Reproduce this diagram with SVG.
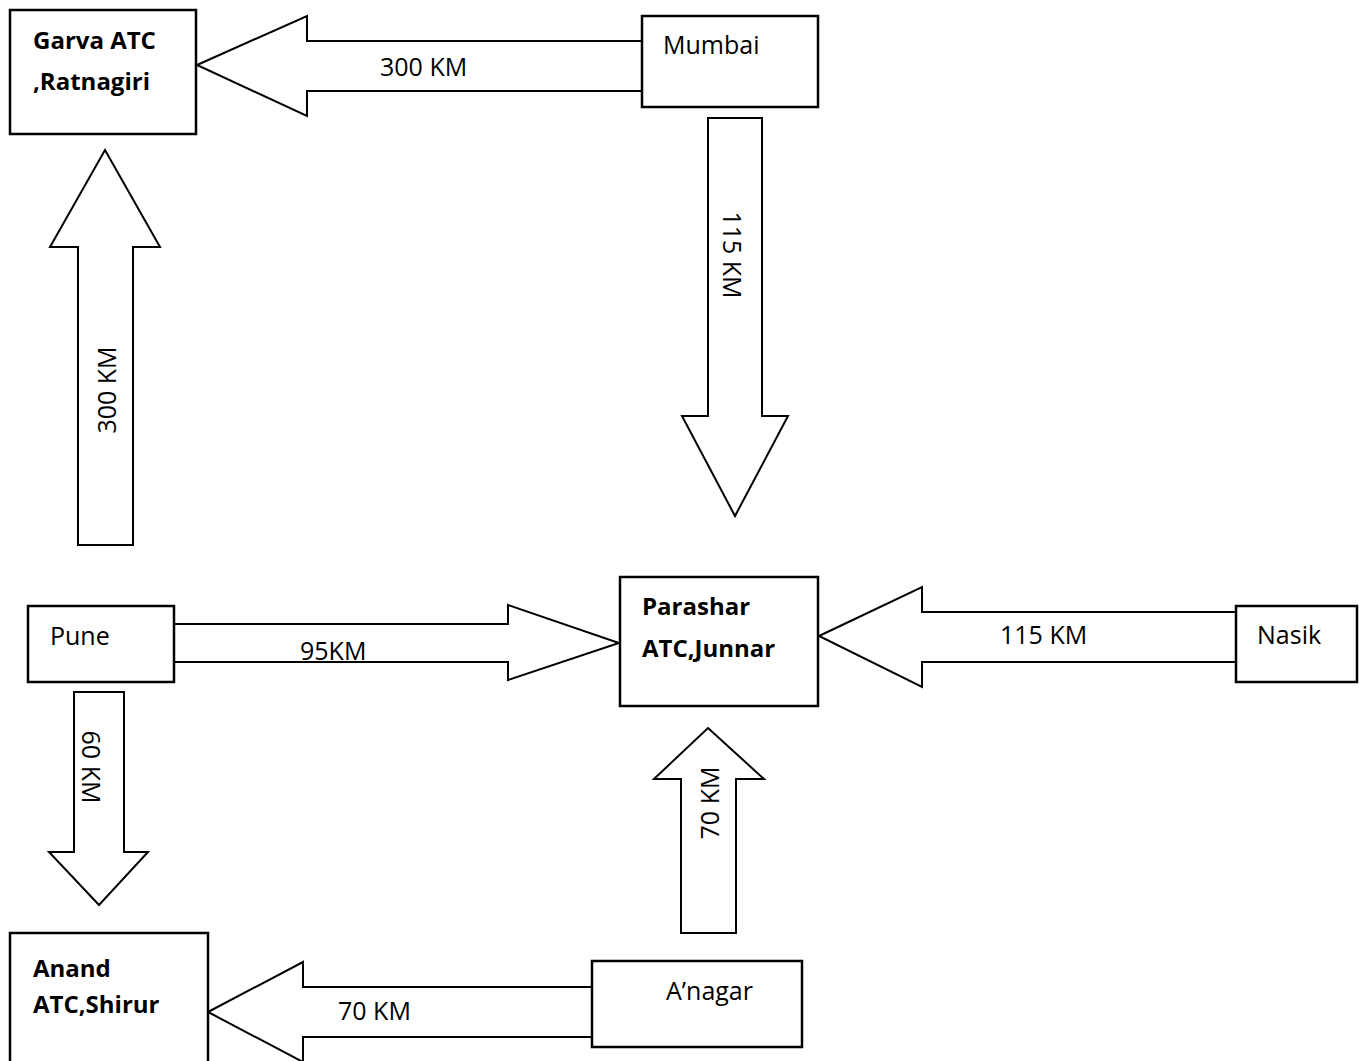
<svg xmlns="http://www.w3.org/2000/svg" width="1364" height="1061" viewBox="0 0 1364 1061">
<style>
.box{fill:#fff;stroke:#000;stroke-width:2.5}
.arr{fill:#fff;stroke:#000;stroke-width:2;stroke-linejoin:miter}
.t{font-family:"Open Sans","Liberation Sans",sans-serif;font-size:25px;fill:#000}
.b{font-family:"Open Sans","Liberation Sans",sans-serif;font-size:24px;font-weight:bold;fill:#000}
</style>
<defs>
<clipPath id="clip95"><rect x="170" y="600" width="400" height="61"/></clipPath>
</defs>
<rect width="1364" height="1061" fill="#fff"/>
<g id="connectors">
<polygon class="arr" points="197,65 307,16 307,41 642,41 642,91 307,91 307,116"/>
<text class="t" x="380" y="76">300 KM</text>
<polygon class="arr" points="708,118 762,118 762,416 788,416 735,516 682,416 708,416"/>
<text class="t" transform="translate(732,255) rotate(90)" text-anchor="middle" y="9">115 KM</text>
<polygon class="arr" points="105,150 160,247 133,247 133,545 78,545 78,247 50,247"/>
<text class="t" transform="translate(107,390) rotate(-90)" text-anchor="middle" y="9">300 KM</text>
<polygon class="arr" points="174,624 508,624 508,605 619,643 508,680 508,662 174,662"/>
<text class="t" x="300" y="660" clip-path="url(#clip95)">95KM</text>
<polygon class="arr" points="819,636 922,587 922,612 1236,612 1236,662 922,662 922,687"/>
<text class="t" x="1000" y="644">115 KM</text>
<polygon class="arr" points="74,692 124,692 124,852 148,852 99,905 49,852 74,852"/>
<text class="t" transform="translate(91,767) rotate(90)" text-anchor="middle" y="9">60 KM</text>
<polygon class="arr" points="708,728 764,779 736,779 736,933 681,933 681,779 654,779"/>
<text class="t" transform="translate(710,803) rotate(-90)" text-anchor="middle" y="9">70 KM</text>
<polygon class="arr" points="208,1012 303,962 303,987 592,987 592,1037 303,1037 303,1062"/>
<text class="t" x="338" y="1020">70 KM</text>
</g>
<g id="garva">
<rect class="box" x="10" y="10" width="186" height="124"/>
<text class="b" x="33" y="49">Garva ATC</text>
<text class="b" x="33" y="90">,Ratnagiri</text>
</g>
<g id="mumbai">
<rect class="box" x="642" y="16" width="176" height="91"/>
<text class="t" x="663" y="54">Mumbai</text>
</g>
<g id="pune">
<rect class="box" x="28" y="606" width="146" height="76"/>
<text class="t" x="50" y="645">Pune</text>
</g>
<g id="parashar">
<rect class="box" x="620" y="577" width="198" height="129"/>
<text class="b" x="642" y="615">Parashar</text>
<text class="b" x="642" y="657">ATC,Junnar</text>
</g>
<g id="nasik">
<rect class="box" x="1236" y="606" width="121" height="76"/>
<text class="t" x="1257" y="644">Nasik</text>
</g>
<g id="anand">
<rect class="box" x="10" y="933" width="198" height="140"/>
<text class="b" x="33" y="977">Anand</text>
<text class="b" x="33" y="1013">ATC,Shirur</text>
</g>
<g id="anagar">
<rect class="box" x="592" y="961" width="210" height="86"/>
<text class="t" x="666" y="1000">A’nagar</text>
</g>
</svg>
